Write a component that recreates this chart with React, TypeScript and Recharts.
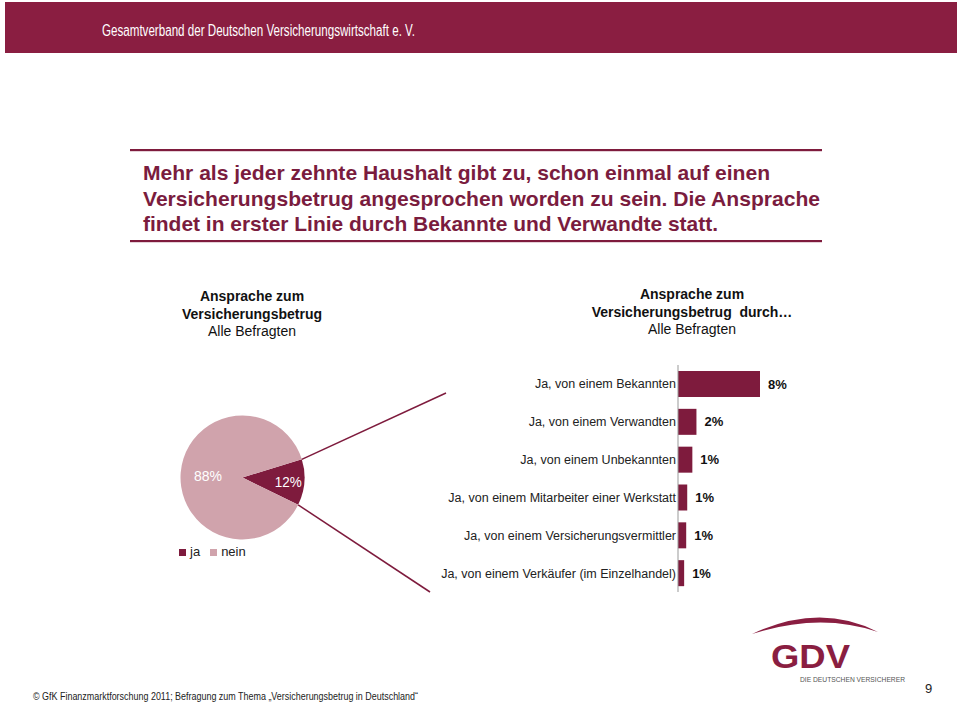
import React from 'react';
import { PieChart, Pie, Cell, BarChart, Bar, XAxis, YAxis, LabelList, Legend } from 'recharts';

const MAROON = '#7E1B3D';
const HEADER = '#8A1E41';
const PINK = '#D0A3AC';
const SANS = '"Liberation Sans", Arial, sans-serif';

const pieNames = ['ja', 'nein'];
const pieValues = [12, 88];
const pieLabels = ['12%', '88%'];
const pieColors = [MAROON, PINK];

const barCategories = [
  'Ja, von einem Bekannten',
  'Ja, von einem Verwandten',
  'Ja, von einem Unbekannten',
  'Ja, von einem Mitarbeiter einer Werkstatt',
  'Ja, von einem Versicherungsvermittler',
  'Ja, von einem Verkäufer (im Einzelhandel)',
];
const barValues = [8, 1.8, 1.4, 0.9, 0.8, 0.6];
const barLabels = ['8%', '2%', '1%', '1%', '1%', '1%'];

const titleLines = [
  'Mehr als jeder zehnte Haushalt gibt zu, schon einmal auf einen',
  'Versicherungsbetrug angesprochen worden zu sein. Die Ansprache',
  'findet in erster Linie durch Bekannte und Verwandte statt.',
];
const titleWidths = [627, 677, 575];

const pieData = pieNames.map((name, i) => ({ name, value: pieValues[i], label: pieLabels[i] }));
const barData = barCategories.map((name, i) => ({ name, value: barValues[i], label: barLabels[i] }));

const RAD = Math.PI / 180;
const CONNECT_TOP = { x: 446, y: 393 };
const CONNECT_BOTTOM = { x: 430, y: 592 };

const renderPieLabel = (props: any) => {
  const { cx, cy, midAngle, outerRadius, index, startAngle, endAngle } = props;
  const f = index === 0 ? 0.74 : 0.56;
  const r = outerRadius * f;
  const x = cx + r * Math.cos(-midAngle * RAD);
  const y = cy + r * Math.sin(-midAngle * RAD);
  const txt = (
    <text x={x} y={y + 6} fill="#fff" textAnchor="middle"
      textLength={index === 0 ? 27 : 28} lengthAdjust="spacingAndGlyphs"
      style={{ fontFamily: SANS, fontSize: 15.5 }}>
      {pieData[index].label}
    </text>
  );
  if (index !== 0) return txt;
  const p1 = { x: cx + outerRadius * Math.cos(-startAngle * RAD), y: cy + outerRadius * Math.sin(-startAngle * RAD) };
  const p2 = { x: cx + outerRadius * Math.cos(-endAngle * RAD), y: cy + outerRadius * Math.sin(-endAngle * RAD) };
  return (
    <g>
      <line x1={p1.x} y1={p1.y} x2={CONNECT_TOP.x} y2={CONNECT_TOP.y} stroke={MAROON} strokeWidth={1.5} />
      <line x1={p2.x} y1={p2.y} x2={CONNECT_BOTTOM.x} y2={CONNECT_BOTTOM.y} stroke={MAROON} strokeWidth={1.5} />
      {txt}
    </g>
  );
};

const BarTick = (props: any) => {
  const { x, y, payload } = props;
  return (
    <text x={x} y={y} dy={4.5} textAnchor="end" fill="#222" style={{ fontFamily: SANS, fontSize: 12.5 }}>
      {payload.value}
    </text>
  );
};

const abs = (left: number, top: number, extra: React.CSSProperties = {}): React.CSSProperties => ({
  position: 'absolute', left, top, ...extra,
});

export default function App() {
  return (
    <div style={{ position: 'fixed', left: 0, top: 0, width: 960, height: 706, background: '#fff', overflow: 'hidden', fontFamily: SANS }}>
      {/* header + title + footer texts */}
      <svg style={abs(0, 0)} width={960} height={706}>
        <rect x={5} y={2} width={952} height={51} fill={HEADER} />
        <text x={102} y={36} fill="#fff" textLength={313} lengthAdjust="spacingAndGlyphs"
          style={{ fontFamily: SANS, fontSize: 16 }}>
          Gesamtverband der Deutschen Versicherungswirtschaft e. V.
        </text>
        <rect x={130} y={149} width={692} height={2.2} fill={MAROON} />
        {titleLines.map((t, i) => (
          <text key={i} x={143} y={180 + i * 25.5} fill="#7A1C3E" textLength={titleWidths[i]} lengthAdjust="spacingAndGlyphs"
            style={{ fontFamily: SANS, fontSize: 20.5, fontWeight: 'bold' }}>{t}</text>
        ))}
        <rect x={130} y={240} width={692} height={2.2} fill={MAROON} />
        <text x={33} y={699.5} fill="#222" textLength={385} lengthAdjust="spacingAndGlyphs"
          style={{ fontFamily: SANS, fontSize: 11 }}>
          © GfK Finanzmarktforschung 2011; Befragung zum Thema „Versicherungsbetrug in Deutschland“
        </text>
      </svg>

      {/* subtitles */}
      <div style={abs(152, 288, { width: 200, textAlign: 'center', fontSize: 14, lineHeight: '17.5px', color: '#111' })}>
        <div style={{ fontWeight: 'bold' }}>Ansprache zum</div>
        <div style={{ fontWeight: 'bold' }}>Versicherungsbetrug</div>
        <div>Alle Befragten</div>
      </div>
      <div style={abs(542, 286, { width: 300, textAlign: 'center', fontSize: 14, lineHeight: '17.5px', color: '#111' })}>
        <div style={{ fontWeight: 'bold' }}>Ansprache zum</div>
        <div style={{ fontWeight: 'bold', whiteSpace: 'nowrap' }}>Versicherungsbetrug&nbsp; durch…</div>
        <div>Alle Befragten</div>
      </div>

      {/* pie */}
      <div style={abs(0, 0)}>
        <PieChart width={470} height={706}>
          <Pie data={pieData} dataKey="value" nameKey="name" cx={237.5} cy={472.5} outerRadius={62}
            startAngle={17} endAngle={-343} stroke="none" isAnimationActive={false}
            label={renderPieLabel} labelLine={false}>
            {pieData.map((d, i) => <Cell key={d.name} fill={pieColors[i]} />)}
          </Pie>
          <Legend iconType="square" iconSize={7} layout="horizontal"
            wrapperStyle={{ left: 179, top: 544, width: 'auto', bottom: 'auto', fontSize: 13, fontFamily: SANS }}
            formatter={(v: any) => <span style={{ color: '#222' }}>{v}</span>} />
        </PieChart>
      </div>

      {/* bars */}
      <div style={abs(420, 365)}>
        <BarChart width={420} height={227} data={barData} layout="vertical"
          margin={{ top: 0, right: 59.5, bottom: 0, left: 0 }} barSize={26}>
          <XAxis type="number" domain={[0, 10]} hide />
          <YAxis type="category" dataKey="name" width={258} tickLine={false} tickSize={0} tickMargin={2}
            axisLine={{ stroke: '#999' }} interval={0} tick={<BarTick />} />
          <Bar dataKey="value" fill={MAROON} isAnimationActive={false}>
            <LabelList dataKey="label" position="right" offset={8}
              style={{ fontSize: 13, fontWeight: 'bold', fill: '#111', fontFamily: SANS }} />
          </Bar>
        </BarChart>
      </div>

      {/* logo */}
      <svg style={abs(740, 605)} width={220} height={101}>
        <path d="M12,29 Q80,-3 138,27 Q80,7 12,29 Z" fill={HEADER} />
        <text x={31} y={63} fill={HEADER} style={{ fontFamily: SANS, fontWeight: 'bold', fontSize: 33 }} textLength={79} lengthAdjust="spacingAndGlyphs">GDV</text>
        <text x={60} y={77} fill="#555" style={{ fontFamily: SANS, fontSize: 7 }} textLength={105} lengthAdjust="spacingAndGlyphs">DIE DEUTSCHEN VERSICHERER</text>
        <text x={185} y={88} fill="#222" style={{ fontFamily: SANS, fontSize: 13 }}>9</text>
      </svg>
    </div>
  );
}
